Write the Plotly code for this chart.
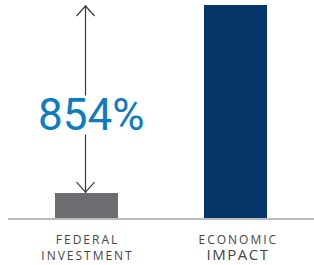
import plotly.graph_objects as go

categories = ["FEDERAL INVESTMENT", "ECONOMIC IMPACT"]
values = [1.0, 8.54]
bar_colors = ["#6c6d70", "#05366a"]
increase_label = "854%"

TS = "\u2009"  # thin space for letter spacing
HS = "\u200a"  # hair space

def spaced(word, sp=TS):
    return sp.join(list(word))

tick_labels = [
    spaced("FEDERAL") + "<br>" + spaced("INVESTMENT"),
    HS * 3 + spaced("ECONOMIC") + "<br>" + HS * 3
    + "<span style='font-size:15px'>" + spaced("IMPACT", HS) + "</span>",
]
x_pos = [0, 1]

fig = go.Figure()
fig.add_trace(go.Bar(
    x=x_pos, y=values, marker=dict(color=bar_colors, line=dict(width=0)),
    width=0.423, hoverinfo="skip",
))

arrow_color = "#3a3a3a"
# vertical arrow line
fig.add_shape(type="line", xref="x", yref="y", xsizemode="pixel", xanchor=x_pos[0],
              x0=-1, x1=-1, y0=values[0], y1=values[1],
              line=dict(color=arrow_color, width=1.2))
# top chevron
fig.add_shape(type="path", xref="x", yref="y", xsizemode="pixel", ysizemode="pixel",
              xanchor=x_pos[0], yanchor=values[1],
              path="M-10,-11 L-1,-1 L8,-11", line=dict(color=arrow_color, width=1.2))
# bottom chevron
fig.add_shape(type="path", xref="x", yref="y", xsizemode="pixel", ysizemode="pixel",
              xanchor=x_pos[0], yanchor=values[0],
              path="M-10,11 L-1,1 L8,11", line=dict(color=arrow_color, width=1.2))

fig.add_annotation(
    x=x_pos[0], y=(values[0] + values[1]) / 2 - 0.64, xref="x", yref="y",
    text=increase_label, showarrow=False, xshift=4.5,
    font=dict(family="Roboto", size=44, color="#0e7bbd"),
    bgcolor="white", height=38, borderpad=0,
)

fig.update_layout(
    width=314, height=265,
    margin=dict(l=8, r=0, t=5, b=47, autoexpand=False),
    paper_bgcolor="white", plot_bgcolor="white",
    showlegend=False,
    xaxis=dict(
        range=[-0.527, 1.527], tickvals=x_pos, ticktext=tick_labels,
        showline=True, linecolor="#bcbcbc", linewidth=2,
        showgrid=False, zeroline=False, ticks="", automargin=False,
        tickfont=dict(family="Open Sans", size=12, color="#444444"),
        ticklabelstandoff=10,
    ),
    yaxis=dict(range=[0, values[1]], visible=False, showgrid=False, zeroline=False,
               automargin=False),
)

fig.write_html("out.html", config={"displayModeBar": False, "staticPlot": True},
               post_script="document.body.style.margin='0';document.body.style.padding='0';")
